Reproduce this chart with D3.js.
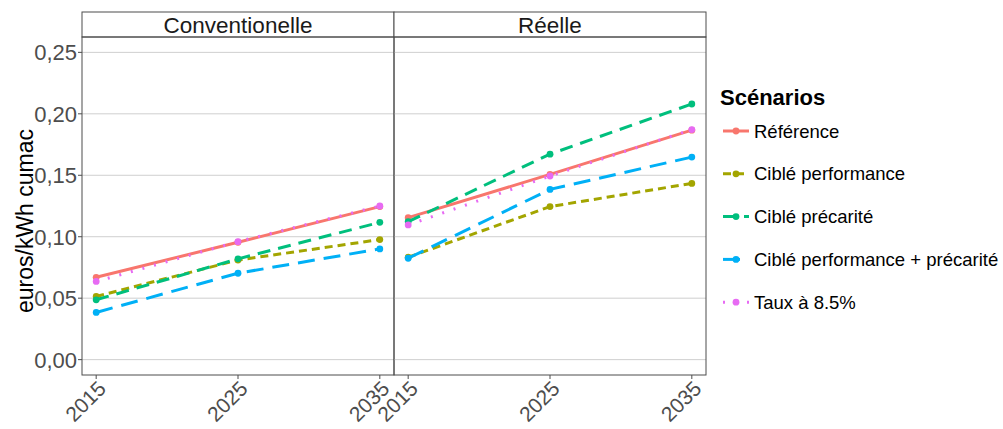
<!DOCTYPE html>
<html>
<head>
<meta charset="utf-8">
<script src="https://cdn.jsdelivr.net/npm/d3@7"></script>
<style>
  body { margin: 0; background: #fff; }
  text { font-family: "Liberation Sans", Arial, sans-serif; }
</style>
</head>
<body>
<div id="chart"></div>
<script>
// data
var years = [2015, 2025, 2035];
var panels = ['Conventionelle', 'Réelle'];
var scenarios = ['Référence', 'Ciblé performance', 'Ciblé précarité', 'Ciblé performance + précarité', 'Taux à 8.5%'];
var yTicks = [0, 0.05, 0.10, 0.15, 0.20, 0.25];

var reference = [[0.067, 0.0955, 0.1245], [0.1155, 0.1507, 0.1867]];
var perf = [[0.0514, 0.081, 0.0977], [0.0833, 0.1245, 0.1434]];
var precarite = [[0.0487, 0.082, 0.1117], [0.1123, 0.1672, 0.208]];
var perfPrecarite = [[0.0384, 0.0703, 0.0901], [0.0825, 0.1385, 0.1648]];
var taux = [[0.0636, 0.096, 0.125], [0.1096, 0.1494, 0.1872]];

var seriesValues = [reference, perf, precarite, perfPrecarite, taux];
var colors = ['#F8766D', '#A3A500', '#00BF7D', '#00B0F6', '#E76BF3'];
var dashes = [null, '8,5', '13,8', '17,9', '2,10'];

var width = 1003, height = 429;
var panelLeft = 82, panelW = 312, stripTop = 12, panelTop = 37, panelBottom = 375;

var svg = d3.select('#chart').append('svg')
  .attr('width', width)
  .attr('height', height);

var y = d3.scaleLinear()
  .domain([-0.0125, 0.2625])
  .range([panelBottom, panelTop]);

var fmt = function(v) { return d3.format('.2f')(v).replace('.', ','); };

panels.forEach(function(name, p) {
  var x0 = panelLeft + p * panelW;
  var x = d3.scaleLinear()
    .domain([2014, 2036])
    .range([x0, x0 + panelW]);

  var g = svg.append('g');

  // horizontal grid only
  g.selectAll('.hgrid')
    .data(yTicks)
    .enter().append('line')
    .attr('x1', x0).attr('x2', x0 + panelW)
    .attr('y1', d => y(d)).attr('y2', d => y(d))
    .attr('stroke', '#cfcfcf').attr('stroke-width', 1);

  // strip
  g.append('rect')
    .attr('x', x0).attr('y', stripTop)
    .attr('width', panelW).attr('height', panelTop - stripTop)
    .attr('fill', '#fff').attr('stroke', '#4d4d4d').attr('stroke-width', 1);
  g.append('text')
    .attr('x', x0 + panelW / 2)
    .attr('y', (stripTop + panelTop) / 2)
    .attr('dy', '0.36em')
    .style('text-anchor', 'middle')
    .style('font-size', '22.5px')
    .attr('fill', '#1a1a1a')
    .text(name);

  // lines
  var line = d3.line()
    .x((d, i) => x(years[i]))
    .y(d => y(d));

  seriesValues.forEach(function(s, k) {
    g.append('path')
      .datum(s[p])
      .attr('d', line)
      .attr('fill', 'none')
      .attr('stroke', colors[k])
      .attr('stroke-width', 3)
      .attr('stroke-dasharray', dashes[k]);
    g.selectAll('.pt' + k)
      .data(s[p])
      .enter().append('circle')
      .attr('cx', (d, i) => x(years[i]))
      .attr('cy', d => y(d))
      .attr('r', 3.4)
      .attr('fill', colors[k]);
  });

  // border
  g.append('rect')
    .attr('x', x0).attr('y', panelTop)
    .attr('width', panelW).attr('height', panelBottom - panelTop)
    .attr('fill', 'none').attr('stroke', '#4d4d4d').attr('stroke-width', 1);

  // x axis ticks + labels
  g.selectAll('.xt')
    .data(years)
    .enter().append('line')
    .attr('x1', d => x(d)).attr('x2', d => x(d))
    .attr('y1', panelBottom).attr('y2', panelBottom + 4)
    .attr('stroke', '#4d4d4d');
  g.selectAll('.xl')
    .data(years)
    .enter().append('text')
    .attr('transform', d => `translate(${x(d) + 11}, 390) rotate(-45)`)
    .style('text-anchor', 'end')
    .style('font-size', '21px')
    .attr('fill', '#4d4d4d')
    .text(d => d);
});

// y axis
svg.selectAll('.yt')
  .data(yTicks)
  .enter().append('line')
  .attr('x1', panelLeft - 4).attr('x2', panelLeft)
  .attr('y1', d => y(d)).attr('y2', d => y(d))
  .attr('stroke', '#4d4d4d');
svg.selectAll('.yl')
  .data(yTicks)
  .enter().append('text')
  .attr('x', panelLeft - 5)
  .attr('y', d => y(d))
  .attr('dy', '0.36em')
  .style('text-anchor', 'end')
  .style('font-size', '22px')
  .attr('fill', '#4d4d4d')
  .text(fmt);

svg.append('text')
  .attr('transform', 'translate(33, 221) rotate(-90)')
  .style('text-anchor', 'middle')
  .style('font-size', '23px')
  .attr('fill', '#000')
  .text('euros/kWh cumac');

// legend
var legend = svg.append('g').attr('transform', 'translate(720, 0)');
legend.append('text')
  .attr('x', 0).attr('y', 105)
  .style('font-size', '22px')
  .style('font-weight', 'bold')
  .attr('fill', '#000')
  .text('Scénarios');

var item = legend.selectAll('.item')
  .data(scenarios)
  .enter().append('g')
  .attr('transform', (d, i) => `translate(0, ${131 + i * 42.8})`);
item.append('line')
  .attr('x1', 3).attr('x2', 29)
  .attr('y1', 0).attr('y2', 0)
  .attr('stroke', (d, i) => colors[i])
  .attr('stroke-width', 3)
  .attr('stroke-dasharray', (d, i) => dashes[i]);
item.append('circle')
  .attr('cx', 16).attr('cy', 0).attr('r', 3.4)
  .attr('fill', (d, i) => colors[i]);
item.append('text')
  .attr('x', 34).attr('y', 0)
  .attr('dy', '0.36em')
  .style('font-size', '18.5px')
  .attr('fill', '#000')
  .text(d => d);
</script>
</body>
</html>
